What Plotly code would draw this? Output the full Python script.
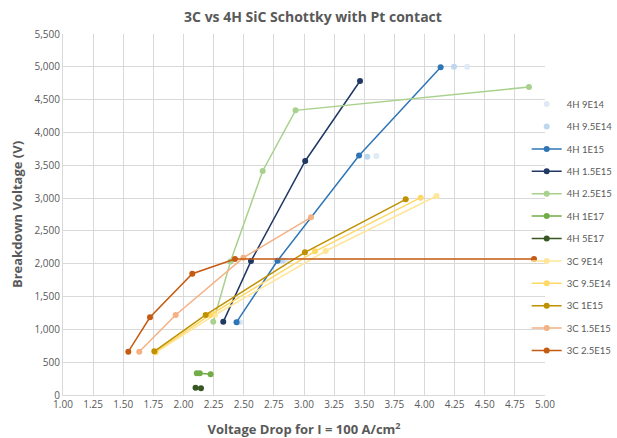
import plotly.graph_objects as go

names = ["4H 9E14", "4H 9.5E14", "4H 1E15", "4H 1.5E15", "4H 2.5E15", "4H 1E17", "4H 5E17",
         "3C 9E14", "3C 9.5E14", "3C 1E15", "3C 1.5E15", "3C 2.5E15"]

x_4h_9e14 = [2.47, 2.85, 3.60, 4.355]
y_4h_9e14 = [1110, 2050, 3640, 5000]
x_4h_95e14 = [2.45, 2.82, 3.525, 4.245]
y_4h_95e14 = [1110, 2050, 3630, 5000]
x_4h_1e15 = [2.44, 2.78, 3.457, 4.134]
y_4h_1e15 = [1110, 2045, 3650, 4995]
x_4h_15e15 = [2.33, 2.56, 3.01, 3.465]
y_4h_15e15 = [1115, 2040, 3565, 4784]
x_4h_25e15 = [2.247, 2.39, 2.657, 2.93, 4.867]
y_4h_25e15 = [1115, 2035, 3413, 4337, 4692]
x_4h_1e17 = [2.11, 2.135, 2.225]
y_4h_1e17 = [330, 330, 318]
x_4h_5e17 = [2.10, 2.145]
y_4h_5e17 = [110, 102]
x_3c_9e14 = [1.77, 2.26, 3.18, 4.10]
y_3c_9e14 = [650, 1219, 2194, 3032]
x_3c_95e14 = [1.765, 2.22, 3.091, 3.968]
y_3c_95e14 = [655, 1219, 2189, 3006]
x_3c_1e15 = [1.758, 2.184, 3.008, 3.844]
y_3c_1e15 = [665, 1219, 2174, 2981]
x_3c_15e15 = [1.633, 1.935, 2.497, 3.058]
y_3c_15e15 = [660, 1219, 2092, 2707]
x_3c_25e15 = [1.542, 1.722, 2.073, 2.427, 4.909]
y_3c_25e15 = [660, 1184, 1848, 2072, 2072]

xs = [x_4h_9e14, x_4h_95e14, x_4h_1e15, x_4h_15e15, x_4h_25e15, x_4h_1e17, x_4h_5e17,
      x_3c_9e14, x_3c_95e14, x_3c_1e15, x_3c_15e15, x_3c_25e15]
ys = [y_4h_9e14, y_4h_95e14, y_4h_1e15, y_4h_15e15, y_4h_25e15, y_4h_1e17, y_4h_5e17,
      y_3c_9e14, y_3c_95e14, y_3c_1e15, y_3c_15e15, y_3c_25e15]
colors = ["#DEEBF7", "#BDD7EE", "#2E75B6", "#203864", "#A9D18E", "#70AD47", "#385723",
          "#FFE699", "#FFD966", "#BF9000", "#F4B183", "#C55A11"]
modes = ["markers", "markers"] + ["lines+markers"] * 10

x_ticks = [1.00, 1.25, 1.50, 1.75, 2.00, 2.25, 2.50, 2.75, 3.00, 3.25, 3.50, 3.75, 4.00, 4.25, 4.50, 4.75, 5.00]
y_ticks = [0, 500, 1000, 1500, 2000, 2500, 3000, 3500, 4000, 4500, 5000, 5500]

fig = go.Figure()
for n, x, y, c, m in zip(names, xs, ys, colors, modes):
    fig.add_trace(go.Scatter(x=x, y=y, name=n, mode=m, legendgroup=n,
                             line=dict(color=c, width=1.5),
                             marker=dict(color=c, size=6)))

gray = "#595959"
fig.update_layout(
    width=617, height=438,
    margin=dict(l=63, r=72, t=34, b=43, autoexpand=False),
    paper_bgcolor="white", plot_bgcolor="white",
    font=dict(family="Open Sans, Arial, sans-serif", size=10, color=gray),
    title=dict(text="<b>3C vs 4H SiC Schottky with Pt contact</b>", x=320/617, xref="paper",
               xanchor="center", y=1 - 17/438, yanchor="middle",
               font=dict(size=14, color=gray)),
    legend=dict(x=0.962, y=0.846, xanchor="left", yanchor="top",
                font=dict(family="Lato, sans-serif", size=9.5, color=gray),
                bgcolor="rgba(0,0,0,0)",
                itemwidth=30, tracegroupgap=3.4),
    showlegend=True,
)
fig.update_xaxes(range=[1.0, 5.0], tickvals=x_ticks, ticktext=[f"{v:.2f}" for v in x_ticks],
                 showgrid=True, gridcolor="#D9D9D9", gridwidth=1,
                 showline=True, linecolor="#D9D9D9", zeroline=False,
                 ticks="", tickfont=dict(size=10, color=gray),
                 title=dict(text="<b>Voltage Drop for I = 100 A/cm<sup>2</sup></b>",
                            font=dict(size=13, color=gray), standoff=18))
fig.update_yaxes(range=[0, 5500], tickvals=y_ticks, ticktext=[f"{v:,}" for v in y_ticks],
                 showgrid=True, gridcolor="#D9D9D9", gridwidth=1,
                 showline=True, linecolor="#D9D9D9", zeroline=False,
                 ticks="", tickfont=dict(size=10, color=gray),
                 title=dict(text="<b>Breakdown Voltage (V)</b>",
                            font=dict(size=13, color=gray), standoff=8))

fig.write_html("out.html")
